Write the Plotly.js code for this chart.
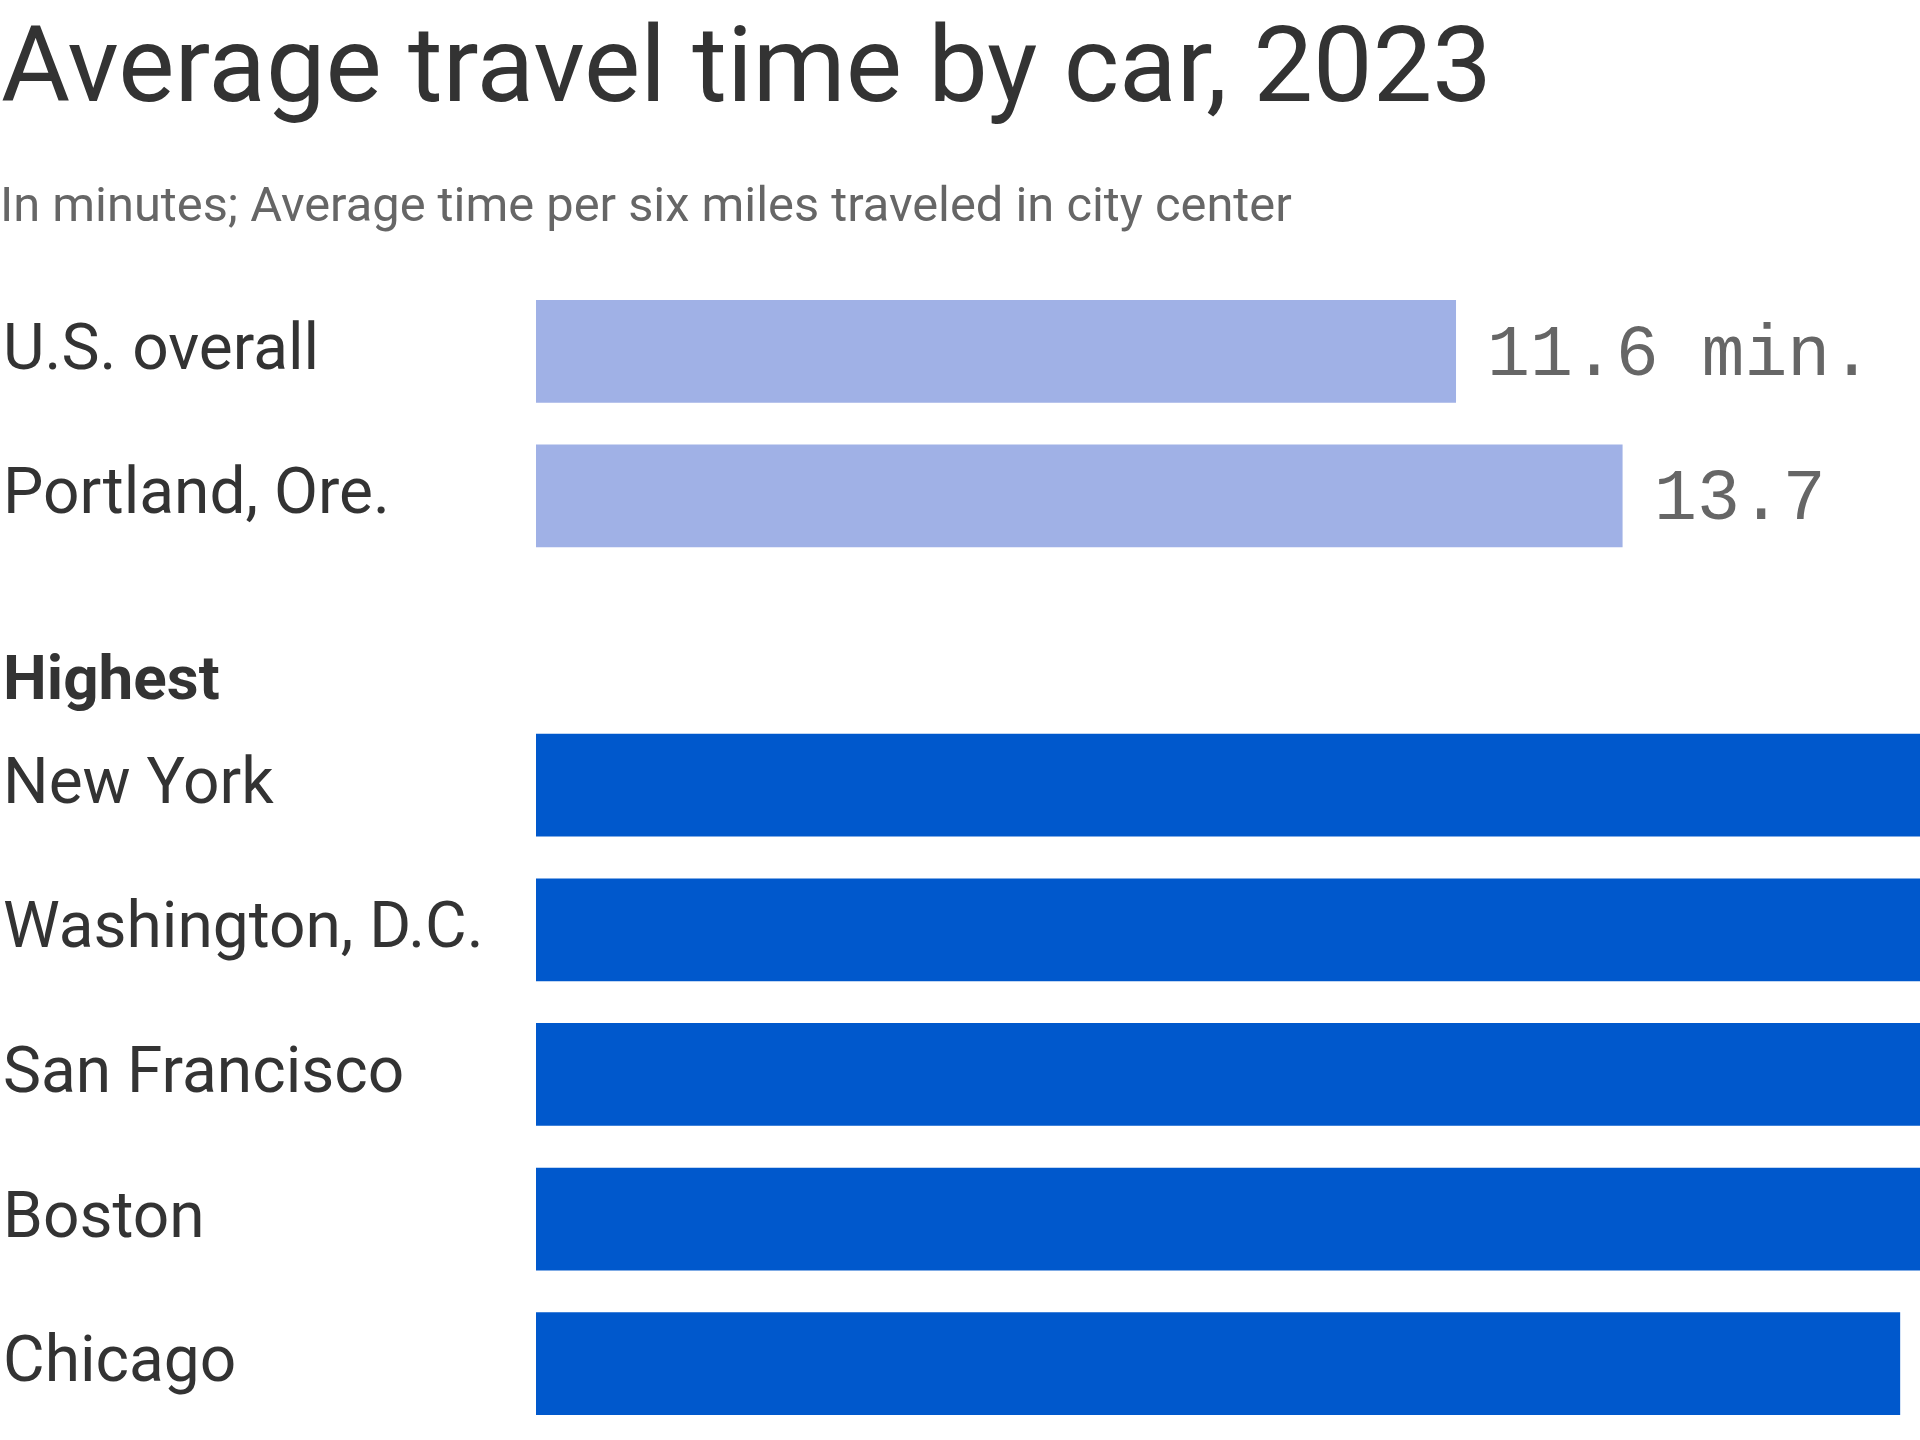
<!DOCTYPE html>
<html>
<head>
<meta charset="utf-8">
<script src="https://cdn.plot.ly/plotly-3.0.1.min.js"></script>
<style>html,body{margin:0;padding:0;background:#fff;}#chart{width:1920px;height:1440px;}</style>
</head>
<body>
<div id="chart"></div>
<script>
// ---- Data ----
const titleText = 'Average travel time by car, 2023';
const subtitleText = 'In minutes; Average time per six miles traveled in city center';
const topCategories = ['U.S. overall', 'Portland, Ore.'];
const topValues = [11.6, 13.7];
const groupHeading = 'Highest';
const highestCategories = ['New York', 'Washington, D.C.', 'San Francisco', 'Boston', 'Chicago'];
const highestValues = [24.5, 21.4, 20.3, 19.9, 17.2];
const unitSuffix = ' min.';

// ---- Layout helpers ----
const W = 1920, H = 1440;
const M = {l: 536, r: 0, t: 279, b: 4};
const plotW = W - M.l - M.r;
const labelX = -(M.l - 1) / plotW;
const sansFont = 'Roboto, "Liberation Sans", sans-serif';
const monoFont = '"Liberation Mono", "DejaVu Sans Mono", monospace';
const textColor = '#333333';
const greyColor = '#666666';

const topRows = topCategories.map((c, i) => i);
const headingRow = topCategories.length;
const highestRows = highestCategories.map((c, i) => headingRow + 1 + i);
const nRows = headingRow + 1 + highestCategories.length;
const xMax = 17.45;

const barWidth = 0.71;
const traces = [
  {
    type: 'bar', orientation: 'h',
    x: topValues, y: topRows, width: barWidth,
    marker: {color: '#a0b1e6', line: {width: 0}},
    hoverinfo: 'skip', showlegend: false
  },
  {
    type: 'bar', orientation: 'h',
    x: highestValues, y: highestRows, width: barWidth,
    marker: {color: '#0058cc', line: {width: 0}},
    hoverinfo: 'skip', showlegend: false
  }
];

const annotations = [];
// row labels
topCategories.forEach((c, i) => annotations.push({
  text: c, x: labelX, xref: 'paper', xanchor: 'left', y: topRows[i], yref: 'y', yanchor: 'middle',
  yshift: 4, showarrow: false, font: {family: sansFont, size: 64, color: textColor}
}));
highestCategories.forEach((c, i) => annotations.push({
  text: c, x: labelX, xref: 'paper', xanchor: 'left', y: highestRows[i], yref: 'y', yanchor: 'middle',
  yshift: 4, showarrow: false, font: {family: sansFont, size: 64, color: textColor}
}));
// group heading
annotations.push({
  text: '<b>' + groupHeading + '</b>', x: labelX, xref: 'paper', xanchor: 'left', y: headingRow, yref: 'y',
  yanchor: 'middle', yshift: -37, showarrow: false, font: {family: sansFont, size: 62, color: textColor}
});
// value labels (only those that fall inside the visible page)
const valueLabel = (v, i) => v.toFixed(1) + (i === 0 ? unitSuffix : '');
topValues.forEach((v, i) => annotations.push({
  text: valueLabel(v, i), x: v, xref: 'x', xanchor: 'left', y: topRows[i], yref: 'y', yanchor: 'middle',
  xshift: 29, yshift: -4, showarrow: false, font: {family: monoFont, size: 71.5, color: greyColor}
}));
highestValues.forEach((v, i) => {
  if (v < xMax - 2.5) annotations.push({
    text: valueLabel(v, 1), x: v, xref: 'x', xanchor: 'left', y: highestRows[i], yref: 'y', yanchor: 'middle',
    xshift: 29, yshift: -4, showarrow: false, font: {family: monoFont, size: 71.5, color: greyColor}
  });
});
// subtitle
annotations.push({
  text: subtitleText, x: 0, xref: 'paper', xanchor: 'left', xshift: -M.l - 2,
  y: 1, yref: 'paper', yanchor: 'middle', yshift: (M.t - 204), showarrow: false,
  font: {family: sansFont, size: 48.8, color: greyColor}
});

const layout = {
  width: W, height: H,
  margin: M,
  paper_bgcolor: '#ffffff', plot_bgcolor: '#ffffff',
  title: {
    text: titleText, x: 0, xref: 'container', xanchor: 'left', pad: {l: 1},
    y: 1 - 64 / H, yref: 'container', yanchor: 'middle',
    font: {family: sansFont, size: 106, color: textColor}
  },
  xaxis: {range: [0, xMax], visible: false, showgrid: false, zeroline: false, fixedrange: true},
  yaxis: {range: [nRows - 0.5, -0.5], visible: false, showgrid: false, zeroline: false, fixedrange: true},
  barmode: 'overlay',
  annotations: annotations,
  showlegend: false
};

Plotly.newPlot('chart', traces, layout, {staticPlot: true, displayModeBar: false});
</script>
</body>
</html>
